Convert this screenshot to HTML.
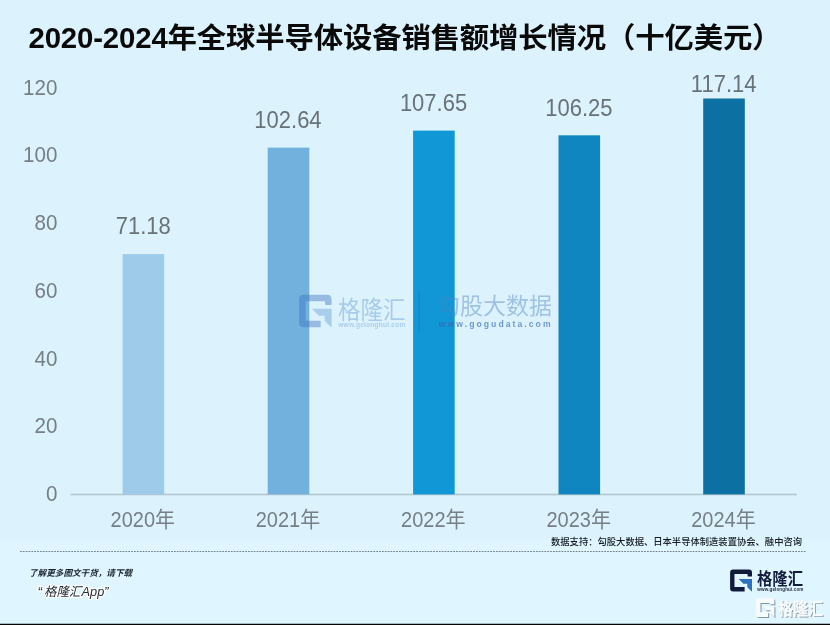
<!DOCTYPE html>
<html lang="zh"><head><meta charset="utf-8"><title>2020-2024年全球半导体设备销售额增长情况</title>
<style>
html,body{margin:0;padding:0}
body{width:830px;height:625px;overflow:hidden;background:#dcf3fe;position:relative;font-family:"Liberation Sans",sans-serif}
svg{position:absolute;left:0;top:0;display:block;filter:blur(0.55px)}
svg text{font-family:"Liberation Sans","Noto Sans CJK SC",sans-serif;white-space:pre}
.h{position:absolute;white-space:nowrap;color:transparent;line-height:1;font-family:"Liberation Sans",sans-serif;overflow:hidden;max-width:800px;max-height:34px}
</style></head><body>
<svg width="830" height="625" viewBox="0 0 830 625" font-family="Liberation Sans, Noto Sans CJK SC, sans-serif"><rect x="0" y="0" width="830" height="625" fill="#dcf3fe"/>
<rect x="-5" y="539.6" width="840" height="90" fill="#dff5ff"/>
<rect x="70.5" y="493.7" width="726.5" height="1.6" fill="#b4c6ce"/>
<rect x="122.6" y="254.1" width="41.6" height="240.3" fill="#9ecbea"/>
<text transform="translate(115.79 234.36) scale(1 1.09)" font-size="22.0" fill="#687277" >71.18</text>
<g transform="translate(110.61 526.75) scale(1 1.06)"><text x="0" y="0" font-size="20" fill="#757f84">2020年</text></g>
<rect x="267.7" y="147.6" width="41.6" height="346.8" fill="#72b1de"/>
<text transform="translate(254.34 127.86) scale(1 1.09)" font-size="22.0" fill="#687277" >102.64</text>
<g transform="translate(255.71 526.75) scale(1 1.06)"><text x="0" y="0" font-size="20" fill="#757f84">2021年</text></g>
<rect x="413.1" y="130.6" width="41.6" height="363.8" fill="#1196d6"/>
<text transform="translate(399.88 110.90) scale(1 1.09)" font-size="22.0" fill="#687277" >107.65</text>
<g transform="translate(401.11 526.75) scale(1 1.06)"><text x="0" y="0" font-size="20" fill="#757f84">2022年</text></g>
<rect x="558.5" y="135.3" width="41.6" height="359.1" fill="#0f86bf"/>
<text transform="translate(545.28 115.64) scale(1 1.09)" font-size="22.0" fill="#687277" >106.25</text>
<g transform="translate(546.51 526.75) scale(1 1.06)"><text x="0" y="0" font-size="20" fill="#757f84">2023年</text></g>
<rect x="703.2" y="98.5" width="41.6" height="395.9" fill="#0c70a2"/>
<text transform="translate(690.84 91.78) scale(1 1.09)" font-size="22.0" fill="#687277" >117.14</text>
<g transform="translate(691.21 526.75) scale(1 1.06)"><text x="0" y="0" font-size="20" fill="#757f84">2024年</text></g>
<text transform="translate(46.00 500.95) scale(1 1.06)" font-size="20.6" fill="#757f84" >0</text>
<text transform="translate(34.54 433.25) scale(1 1.06)" font-size="20.6" fill="#757f84" >20</text>
<text transform="translate(34.54 365.55) scale(1 1.06)" font-size="20.6" fill="#757f84" >40</text>
<text transform="translate(34.54 297.85) scale(1 1.06)" font-size="20.6" fill="#757f84" >60</text>
<text transform="translate(34.54 230.15) scale(1 1.06)" font-size="20.6" fill="#757f84" >80</text>
<text transform="translate(23.08 162.45) scale(1 1.06)" font-size="20.6" fill="#757f84" >100</text>
<text transform="translate(23.08 94.75) scale(1 1.06)" font-size="20.6" fill="#757f84" >120</text>
<text transform="translate(0 48.4) scale(1 0.972)" x="28.5" y="0" font-size="29.4" font-weight="700" fill="#0a0a0a" textLength="753" lengthAdjust="spacing">2020-2024年全球半导体设备销售额增长情况（十亿美元）</text>
<line x1="20" y1="551.5" x2="806" y2="551.5" stroke="#66747c" stroke-width="0.9" stroke-dasharray="1.75 1.1"/>
<text x="551" y="544.6" font-size="9.3" font-weight="500" fill="#151c22">数据支持：勾股大数据、日本半导体制造装置协会、融中咨询</text>
<text x="29" y="575.5" font-size="8.6" font-weight="700" font-style="italic" fill="#1b242e">了解更多图文干货，请下载</text>
<text x="37.62" y="596.00" font-size="13.5" fill="#262c34" font-style="italic" stroke="#ffffff" stroke-width="2.6" stroke-linejoin="round" paint-order="stroke" stroke-opacity="0.95">“</text>
<text x="44" y="595.5" font-size="12.5" fill="#262c34" font-style="italic" stroke="#ffffff" stroke-width="2.6" stroke-linejoin="round" paint-order="stroke" stroke-opacity="0.95">格隆汇</text>
<text x="81.53" y="595.70" font-size="12.8" fill="#262c34" font-style="italic" stroke="#ffffff" stroke-width="2.6" stroke-linejoin="round" paint-order="stroke" stroke-opacity="0.95">App</text>
<text x="103.90" y="596.00" font-size="13.5" fill="#262c34" font-style="italic" stroke="#ffffff" stroke-width="2.6" stroke-linejoin="round" paint-order="stroke" stroke-opacity="0.95">”</text>
<path d="M733.09 569.60 L749.01 569.60 Q752.00 569.60 752.00 572.59 L752.00 576.57 L747.62 576.57 L747.62 573.98 L734.48 573.98 L734.48 587.12 L744.63 587.12 L744.63 591.50 L733.09 591.50 Q730.10 591.50 730.10 588.51 L730.10 572.59 Q730.10 569.60 733.09 569.60 Z" fill="#121a3c" />
<path d="M738.76 579.06 L752.00 579.06 L752.00 591.80 L747.32 587.22 L747.32 583.74 L743.44 583.74 Z" fill="#2e70bd" />
<text x="757" y="585.3" font-size="17" font-weight="700" fill="#141c3e" textLength="46" lengthAdjust="spacingAndGlyphs">格隆汇</text>
<text x="757.31" y="591.40" font-size="4.6" fill="#1d2646" font-weight="700" letter-spacing="0.100" >www.gelonghui.com</text>
<path d="M759.34 599.30 L772.86 599.30 Q775.40 599.30 775.40 601.84 L775.40 605.22 L770.67 605.22 L770.67 604.03 L761.53 604.03 L761.53 613.17 L769.14 613.17 L769.14 617.90 L759.34 617.90 Q756.80 617.90 756.80 615.36 L756.80 601.84 Q756.80 599.30 759.34 599.30 Z" fill="#77838c" opacity="0.85"/>
<path d="M763.14 607.33 L775.40 607.33 L775.40 618.15 L771.43 614.26 L771.43 611.31 L767.11 611.31 Z" fill="#77838c" opacity="0.85"/>
<text x="779" y="616.2" font-size="16.8" font-weight="700" fill="#77838c" opacity="0.85" textLength="45" lengthAdjust="spacingAndGlyphs">格隆汇</text>
<path d="M758.34 598.30 L771.86 598.30 Q774.40 598.30 774.40 600.84 L774.40 604.22 L769.67 604.22 L769.67 603.03 L760.53 603.03 L760.53 612.17 L768.14 612.17 L768.14 616.90 L758.34 616.90 Q755.80 616.90 755.80 614.36 L755.80 600.84 Q755.80 598.30 758.34 598.30 Z" fill="#f6fbfe" />
<path d="M762.14 606.33 L774.40 606.33 L774.40 617.15 L770.43 613.26 L770.43 610.31 L766.11 610.31 Z" fill="#f6fbfe" />
<text x="778" y="615.2" font-size="16.8" font-weight="700" fill="#f6fbfe" stroke="#f6fbfe" stroke-width="0.35" textLength="45" lengthAdjust="spacingAndGlyphs">格隆汇</text>
<path d="M303.53 294.70 L327.17 294.70 Q331.60 294.70 331.60 299.13 L331.60 305.04 L325.10 305.04 L325.10 301.20 L305.60 301.20 L305.60 320.70 L320.67 320.70 L320.67 327.20 L303.53 327.20 Q299.10 327.20 299.10 322.77 L299.10 299.13 Q299.10 294.70 303.53 294.70 Z" fill="rgba(60,110,185,0.42)" />
<path d="M311.95 308.73 L331.60 308.73 L331.60 327.64 L324.66 320.85 L324.66 315.68 L318.90 315.68 Z" fill="rgba(80,140,205,0.36)" />
<text x="338" y="318.7" font-size="25" fill="rgba(80,133,194,0.36)" textLength="67.5" lengthAdjust="spacingAndGlyphs">格隆汇</text>
<text x="338.22" y="327.00" font-size="6.6" fill="rgba(80,133,194,0.34)" font-weight="700" letter-spacing="0.200" >www.gelonghui.com</text>
<rect x="418.6" y="290.4" width="0.9" height="40" fill="rgba(40,90,150,0.35)"/>
<text x="437" y="313.7" font-size="23" fill="rgba(80,133,194,0.44)">勾股大数据</text>
<text x="438.83" y="326.90" font-size="8.6" fill="rgba(50,100,175,0.64)" font-weight="700" letter-spacing="2.059" >www.gogudata.com</text>
<rect x="-5" y="623.75" width="840" height="3" fill="#050505"/></svg>
<div class="h" style="left:155px;top:510px;font-size:20px">年</div>
<div class="h" style="left:300px;top:510px;font-size:20px">年</div>
<div class="h" style="left:446px;top:510px;font-size:20px">年</div>
<div class="h" style="left:591px;top:510px;font-size:20px">年</div>
<div class="h" style="left:736px;top:510px;font-size:20px">年</div>
<div class="h" style="left:29px;top:22px;font-size:30px">2020-2024年全球半导体设备销售额增长情况（十亿美元）</div>
<div class="h" style="left:551px;top:536px;font-size:9px">数据支持：勾股大数据、日本半导体制造装置协会、融中咨询</div>
<div class="h" style="left:27px;top:568px;font-size:9px">了解更多图文干货，请下载</div>
<div class="h" style="left:43px;top:584px;font-size:12px">格隆汇</div>
<div class="h" style="left:757px;top:570px;font-size:17px">格隆汇</div>
<div class="h" style="left:337px;top:296px;font-size:25px">格隆汇</div>
<div class="h" style="left:436px;top:293px;font-size:23px">勾股大数据</div>
</body></html>
